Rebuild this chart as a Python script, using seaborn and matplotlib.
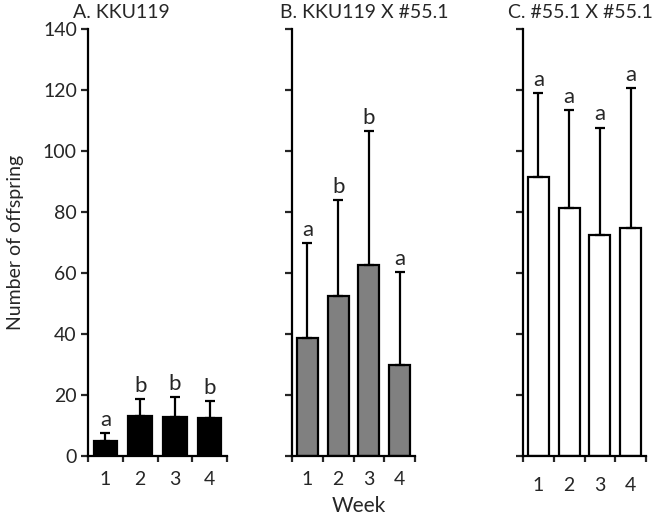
import matplotlib
matplotlib.use("Agg")
import matplotlib.pyplot as plt
import seaborn as sns
import pandas as pd
import numpy as np
from matplotlib.ticker import FixedLocator

sns.set_style("white")
plt.rcParams['font.family'] = ['Lato', 'DejaVu Sans']

weeks = ["1", "2", "3", "4"]
titles = ["A. KKU119", "B. KKU119 X #55.1", "C. #55.1 X #55.1"]
means_a = [4.9, 13.2, 12.8, 12.6]
sd_a = [2.5, 5.4, 6.4, 5.5]
letters_a = ["a", "b", "b", "b"]
means_b = [38.8, 52.6, 62.6, 29.9]
sd_b = [31.0, 31.3, 43.9, 30.5]
letters_b = ["a", "b", "b", "a"]
means_c = [91.4, 81.3, 72.5, 74.8]
sd_c = [27.6, 32.1, 35.2, 45.7]
letters_c = ["a", "a", "a", "a"]
colors = ["#000000", "#808080", "#ffffff"]
yticks = [0, 20, 40, 60, 80, 100, 120, 140]

panels = [(means_a, sd_a, letters_a), (means_b, sd_b, letters_b), (means_c, sd_c, letters_c)]

W, H = 664, 531
fig = plt.figure(figsize=(W / 100, H / 100), dpi=100)
axes_px = [(88, 227), (292, 415), (523, 646)]
top_px, bot_px = 29, 456
title_x = [73, 280, 508]

for k, ((means, sds, letters), (l, r)) in enumerate(zip(panels, axes_px)):
    ax = fig.add_axes([l / W, (H - bot_px) / H, (r - l) / W, (bot_px - top_px) / H])
    df = pd.DataFrame({"week": weeks, "value": means})
    sns.barplot(data=df, x="week", y="value", ax=ax, color=colors[k],
                edgecolor="black", linewidth=1.6, width=0.68, saturation=1, errorbar=None)
    xpos = np.arange(len(weeks))
    ax.errorbar(xpos, means, yerr=[np.zeros(len(sds)), sds], fmt="none",
                ecolor="black", elinewidth=1.6, capsize=3.5, capthick=1.6, zorder=3)
    for i, (m, s, t) in enumerate(zip(means, sds, letters)):
        ax.text(i, m + s + 1.0, t, ha="center", va="bottom", fontsize=16)
    ax.set_xlim(-0.5, len(weeks) - 0.5)
    ax.set_ylim(0, 140)
    ax.set_yticks(yticks)
    if k == 0:
        ax.set_yticklabels([str(v) for v in yticks], fontsize=14)
    else:
        ax.set_yticklabels([])
    ax.tick_params(axis="y", direction="out", length=5, width=1.6, pad=3, left=True)
    ax.set_xticks(xpos)
    ax.set_xticklabels(weeks, fontsize=14)
    ax.xaxis.set_minor_locator(FixedLocator(np.arange(-0.5, len(weeks), 1.0)))
    ax.tick_params(axis="x", which="major", length=0, pad=11 if k < 2 else 15)
    ax.tick_params(axis="x", which="minor", direction="out", length=4, width=1.6, bottom=True)
    ax.set_xlabel("")
    ax.set_ylabel("")
    for side in ["top", "right"]:
        ax.spines[side].set_visible(False)
    for side in ["left", "bottom"]:
        ax.spines[side].set_linewidth(1.6)
        ax.spines[side].set_color("black")
    fig.text(title_x[k] / W, 1 - 13 / H, titles[k], ha="left", va="center", fontsize=14)

fig.text(16 / W, 1 - 242 / H, "Number of offspring", rotation=90, ha="center", va="center", fontsize=14)
fig.text(359 / W, 1 - 506 / H, "Week", ha="center", va="center", fontsize=15)

fig.savefig("out.png", dpi=100)
